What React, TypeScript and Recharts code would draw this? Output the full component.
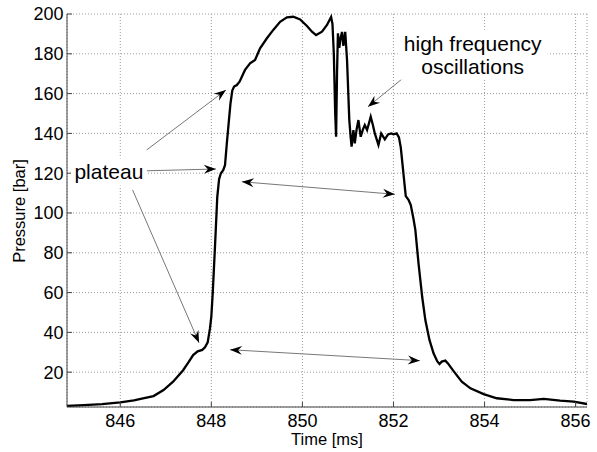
import { CartesianGrid, Line, LineChart, ReferenceDot, ReferenceLine, XAxis, YAxis } from "recharts";

// pressure trace
const time = [
  844.83, 845.2, 845.6, 846.0, 846.3, 846.5, 846.73, 846.95, 847.16, 847.38, 847.5, 847.6, 847.7, 847.8, 847.86,
  847.92, 847.97, 848.0, 848.03, 848.08, 848.13, 848.17, 848.21, 848.26, 848.3, 848.34, 848.38, 848.42, 848.46,
  848.5, 848.56, 848.62, 848.67, 848.74, 848.85, 848.96, 849.07, 849.22, 849.36, 849.51, 849.66, 849.8, 849.95,
  850.1, 850.21, 850.3, 850.43, 850.54, 850.63, 850.66, 850.69, 850.72, 850.74, 850.76, 850.78, 850.81, 850.84,
  850.87, 850.9, 850.94, 850.98, 851.03, 851.06, 851.08, 851.12, 851.15, 851.19, 851.23, 851.28, 851.33, 851.37,
  851.42, 851.46, 851.5, 851.55, 851.59, 851.67, 851.73, 851.81, 851.88, 851.95, 852.0, 852.07, 852.12, 852.16,
  852.2, 852.24, 852.27, 852.33, 852.38, 852.44, 852.48, 852.55, 852.63, 852.7, 852.79, 852.88, 852.96, 853.01,
  853.06, 853.14, 853.2, 853.32, 853.5, 853.69, 853.98, 854.27, 854.64, 855.0, 855.3, 855.66, 855.96, 856.25,
];
const pressure = [
  3.0, 3.4, 3.9, 4.8, 5.8, 6.8, 8.0, 11, 15.2, 21, 25, 28.6, 30.5, 31.2, 32.5,
  35, 42, 48, 59.6, 83, 108, 117, 120, 121.5, 124, 135, 145, 155, 161.5,
  163.5, 164.3, 166, 168.5, 171.9, 175.2, 176.9, 182.8, 187.8, 192, 196.1, 198.3, 198.6, 197.3,
  194, 191.1, 189.4, 191.1, 194.5, 198.5, 195, 180, 150, 138.3, 170, 190.3, 183, 188,
  191, 184, 191, 176.9, 146.7, 138, 133.3, 141.7, 135, 142, 146.7, 138.3, 142, 144.2,
  141.7, 145, 148.4, 144, 140, 134.2, 140, 137, 139.5, 140, 139.5, 140, 138, 133,
  124, 115, 108.5, 106.6, 104, 97, 91.5, 74.7, 57.9, 46.2, 36.2, 29.5, 25.5, 24.1,
  25.3, 25.8, 24.3, 20.5, 15.2, 11.9, 9, 6.9, 6, 6, 6.6, 5.7, 5.2, 4,
];

const xTicks = [846, 848, 850, 852, 854, 856];
const yTicks = [20, 40, 60, 80, 100, 120, 140, 160, 180, 200];
const xDomain = [844.83, 856.25];
const yDomain = [2.5, 200];

// annotation arrows, [from x, from y, to x, to y]
const singleArrows = [
  [846.58, 131.7, 848.32, 161.8],
  [846.58, 121.2, 848.1, 122.1],
  [846.27, 111.6, 847.73, 34.8],
  [852.18, 167.2, 851.44, 153.4],
];
const doubleArrows = [
  [848.67, 115.7, 852.03, 109.4],
  [848.41, 31.3, 852.58, 25.8],
];

const data = time.map((t, i) => ({ t, p: pressure[i] }));
const font = "'Liberation Sans', Arial, sans-serif";

function head(x1: number, y1: number, x2: number, y2: number) {
  const a = Math.atan2(y2 - y1, x2 - x1);
  const ux = Math.cos(a);
  const uy = Math.sin(a);
  const L = 12;
  const W = 4.5;
  const N = 8;
  const bx = x2 - ux * L;
  const by = y2 - uy * L;
  const nx = x2 - ux * N;
  const ny = y2 - uy * N;
  return `${x2},${y2} ${bx - uy * W},${by + ux * W} ${nx},${ny} ${bx + uy * W},${by - ux * W}`;
}

const arrow = (both: boolean) => (props: any) => {
  const { x1, y1, x2, y2 } = props;
  return (
    <g>
      <line x1={x1} y1={y1} x2={x2} y2={y2} stroke="#777" strokeWidth={1} />
      <polygon points={head(x1, y1, x2, y2)} fill="#000" />
      {both && <polygon points={head(x2, y2, x1, y1)} fill="#000" />}
    </g>
  );
};

const textBox = (lines: string[], w: number) => (props: any) => {
  const { cx, cy } = props;
  const lh = 23;
  const h = lines.length * lh + 4;
  return (
    <g>
      <rect x={cx - w / 2} y={cy - h / 2} width={w} height={h} fill="#fff" />
      {lines.map((s, i) => (
        <text
          key={i}
          x={cx}
          y={cy + (i - (lines.length - 1) / 2) * lh}
          textAnchor="middle"
          dominantBaseline="central"
          fontSize={21}
          fill="#000"
          fontFamily={font}
        >
          {s}
        </text>
      ))}
    </g>
  );
};

export default function App() {
  const tick = { fontSize: 18, fill: "#000", fontFamily: font };
  return (
    <div style={{ position: "absolute", left: 0, top: 0, width: 597, height: 452, background: "#fff" }}>
      <LineChart
        width={597}
        height={452}
        data={data}
        margin={{ top: 14, right: 10, bottom: 0, left: 0 }}
        style={{ fontFamily: font }}
      >
        <CartesianGrid stroke="#9a9a9a" strokeWidth={1} strokeDasharray="1 2" />
        <XAxis
          dataKey="t"
          type="number"
          domain={xDomain}
          ticks={xTicks}
          interval={0}
          allowDataOverflow
          height={45}
          stroke="#444"
          tickSize={-5}
          tickMargin={12}
          tick={tick}
          label={{
            content: () => (
              <text x={327} y={445} textAnchor="middle" fontSize={16.5} fill="#000" fontFamily={font}>
                Time [ms]
              </text>
            ),
          }}
        />
        <XAxis
          xAxisId="top"
          orientation="top"
          dataKey="t"
          type="number"
          domain={xDomain}
          ticks={xTicks}
          interval={0}
          allowDataOverflow
          height={0}
          stroke="#444"
          tickSize={-5}
          tickFormatter={() => ""}
        />
        <YAxis
          type="number"
          domain={yDomain}
          ticks={yTicks}
          interval={0}
          allowDataOverflow
          width={67}
          stroke="#444"
          tickSize={-5}
          tickMargin={8.5}
          tick={tick}
          label={{
            content: () => (
              <text
                x={25}
                y={211}
                transform="rotate(-90 25 211)"
                textAnchor="middle"
                fontSize={16.5}
                fill="#000"
                fontFamily={font}
              >
                Pressure [bar]
              </text>
            ),
          }}
        />
        <YAxis
          yAxisId="right"
          orientation="right"
          type="number"
          domain={yDomain}
          ticks={yTicks}
          interval={0}
          allowDataOverflow
          width={0}
          stroke="#444"
          tickSize={-5}
          tickFormatter={() => ""}
        />
        <Line
          type="linear"
          dataKey="p"
          stroke="#000"
          strokeWidth={2.3}
          dot={false}
          activeDot={false}
          isAnimationActive={false}
        />
        {singleArrows.map((a, i) => (
          <ReferenceLine
            key={"s" + i}
            segment={[
              { x: a[0], y: a[1] },
              { x: a[2], y: a[3] },
            ]}
            shape={arrow(false)}
          />
        ))}
        {doubleArrows.map((a, i) => (
          <ReferenceLine
            key={"d" + i}
            segment={[
              { x: a[0], y: a[1] },
              { x: a[2], y: a[3] },
            ]}
            shape={arrow(true)}
          />
        ))}
        <ReferenceDot x={845.75} y={120.6} shape={textBox(["plateau"], 76)} />
        <ReferenceDot x={853.74} y={179.6} shape={textBox(["high frequency", "oscillations"], 150)} />
      </LineChart>
    </div>
  );
}
